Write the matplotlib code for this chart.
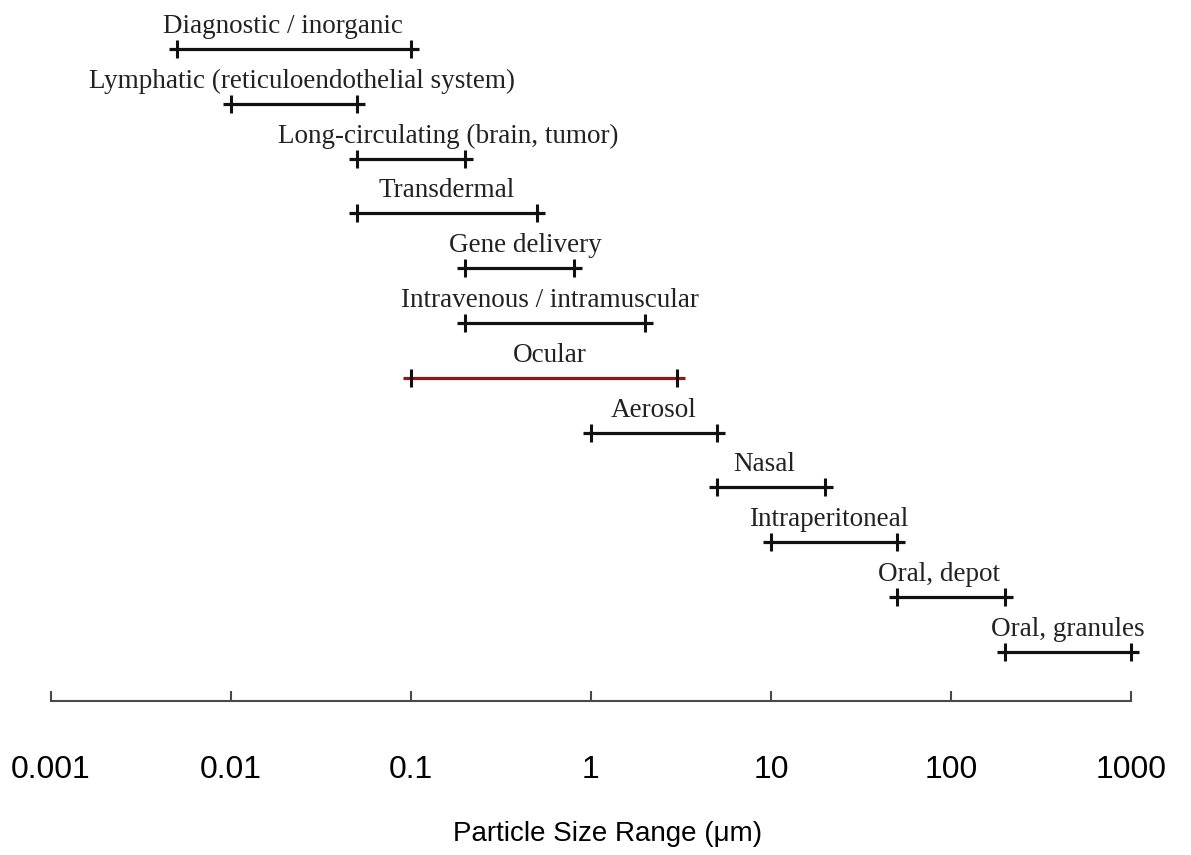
"""Particle size ranges for drug delivery routes (log scale range chart)."""

import matplotlib

matplotlib.use("Agg")
import matplotlib.pyplot as plt
import numpy as np

# --- data -----------------------------------------------------------------
routes = [
    "Diagnostic / inorganic",
    "Lymphatic (reticuloendothelial system)",
    "Long-circulating (brain, tumor)",
    "Transdermal",
    "Gene delivery",
    "Intravenous / intramuscular",
    "Ocular",
    "Aerosol",
    "Nasal",
    "Intraperitoneal",
    "Oral, depot",
    "Oral, granules",
]
size_min = [0.005, 0.01, 0.05, 0.05, 0.2, 0.2, 0.1, 1, 5, 10, 50, 200]
size_max = [0.1, 0.05, 0.2, 0.5, 0.8, 2, 3, 5, 20, 50, 200, 1000]
tick_values = [0.001, 0.01, 0.1, 1, 10, 100, 1000]
tick_labels = ["0.001", "0.01", "0.1", "1", "10", "100", "1000"]

# --- layout / style -------------------------------------------------------
COLORS = {"bar": "#111111", "highlight": "#8b1a1a", "axis": "#4a4a4a"}
highlight_route = "Ocular"
# horizontal nudges of labels relative to bar centre (points)
label_nudge = [-8, 6, 27, 0, 4, -4, 4, 0, -5, -4, -9, 0]
END_PAD = 10 ** (8 / 180)  # line runs a little past the end ticks

fig = plt.figure(figsize=(11.91, 8.55), dpi=100)
fig.set_facecolor("white")
ax = fig.add_axes([51 / 1191, 154 / 855, 1080 / 1191, 701 / 855])
ax.set_xscale("log")
ax.set_xlim(1e-3, 1e3)
ax.set_ylim(11.9, -0.894)

y_pos = np.arange(len(routes))
for y, name, lo, hi, dx in zip(y_pos, routes, size_min, size_max, label_nudge):
    line_color = COLORS["highlight"] if name == highlight_route else COLORS["bar"]
    ax.plot(
        [lo / END_PAD, hi * END_PAD],
        [y, y],
        color=line_color,
        linewidth=2.3,
        solid_capstyle="butt",
        clip_on=False,
    )
    ax.plot(
        [lo, hi],
        [y, y],
        linestyle="none",
        marker="|",
        markersize=13,
        markeredgewidth=2.2,
        color=COLORS["bar"],
        clip_on=False,
    )
    ax.annotate(
        name,
        xy=(np.sqrt(lo * hi), y),
        xytext=(dx, 11.5),
        textcoords="offset points",
        ha="center",
        va="baseline",
        fontsize=19.5,
        family="Liberation Serif",
        color="#222222",
    )

for side in ("top", "left", "right"):
    ax.spines[side].set_visible(False)
ax.spines["bottom"].set_color(COLORS["axis"])
ax.spines["bottom"].set_linewidth(1.5)
ax.set_yticks([])
ax.set_xticks(tick_values)
ax.set_xticklabels(tick_labels, family="Liberation Sans", fontsize=23)
ax.xaxis.set_minor_locator(matplotlib.ticker.NullLocator())
ax.tick_params(
    axis="x",
    direction="in",
    length=7,
    width=1.5,
    color=COLORS["axis"],
    pad=39,
)
ax.set_xlabel(
    "Particle Size Range (μm)",
    family="Liberation Sans",
    fontsize=20,
    labelpad=26,
    x=0.515,
)

fig.savefig("out.png", dpi=100, facecolor="white")
plt.close(fig)
